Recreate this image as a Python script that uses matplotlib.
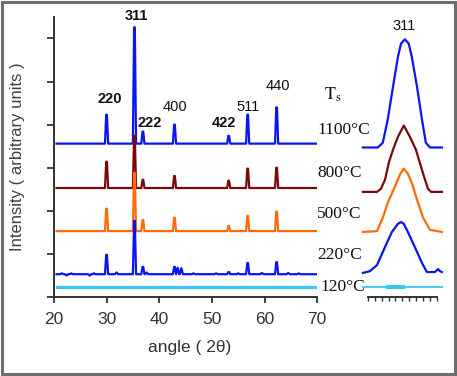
import matplotlib
matplotlib.use("Agg")
import matplotlib.pyplot as plt
from matplotlib.patches import Rectangle

plt.rcParams['font.family'] = ['Liberation Sans', 'DejaVu Sans']
plt.rcParams['mathtext.fontset'] = 'stix'

# peak positions (2 theta) and hkl labels
peak_pos = [30.0, 35.3, 36.9, 42.9, 53.2, 56.8, 62.3]
peak_hkl = ['220', '311', '222', '400', '422', '511', '440']
peak_bold = [True, True, True, False, True, False, False]

# baselines (offset of each trace) and peak heights above baseline
temps = ['1100°C', '800°C', '500°C', '220°C', '120°C']
base_1100 = 3.56
peaks_1100 = [0.67, 2.70, 0.28, 0.44, 0.18, 0.67, 0.84]
base_800 = 2.53
peaks_800 = [0.61, 1.21, 0.19, 0.28, 0.17, 0.45, 0.47]
base_500 = 1.53
peaks_500 = [0.52, 1.35, 0.26, 0.31, 0.12, 0.35, 0.45]
base_220 = 0.53
peaks_220 = [0.45, 1.24, 0.17, 0.17, 0.05, 0.26, 0.28]
base_120 = 0.23

# small baseline wiggles of the 220 C trace (2 theta, offset)
wiggle_220_x = [21.5, 22.4, 23.3, 26.8, 27.6, 31.9, 37.6, 43.5, 44.2, 46.5, 50.8, 55.0, 59.5, 64.5, 66.5]
wiggle_220_y = [0.02, -0.03, 0.02, -0.03, 0.02, 0.04, 0.04, 0.15, 0.14, 0.02, 0.02, 0.02, 0.03, 0.03, 0.02]

# inset: 311 peak profiles (2 theta, intensity)
ins_1100_x = [33.82, 34.36, 34.54, 34.72, 34.91, 35.09, 35.2, 35.34, 35.48, 35.59, 35.78, 35.96, 36.10, 36.25, 36.68]
ins_1100_y = [3.47, 3.47, 3.58, 4.12, 4.88, 5.58, 5.88, 5.98, 5.88, 5.58, 4.88, 4.12, 3.58, 3.47, 3.47]
ins_800_x = [33.82, 34.33, 34.47, 34.62, 34.76, 34.91, 35.09, 35.30, 35.52, 35.74, 35.88, 36.07, 36.18, 36.29, 36.68]
ins_800_y = [2.44, 2.44, 2.51, 2.72, 3.12, 3.42, 3.72, 3.98, 3.72, 3.42, 3.12, 2.72, 2.51, 2.44, 2.44]
ins_500_x = [33.82, 34.33, 34.54, 34.72, 34.98, 35.16, 35.30, 35.45, 35.59, 35.78, 36.00, 36.25, 36.68]
ins_500_y = [1.51, 1.53, 1.84, 2.19, 2.56, 2.84, 2.98, 2.86, 2.65, 2.26, 1.84, 1.56, 1.51]
ins_220_x = [33.82, 34.07, 34.33, 34.62, 34.87, 35.09, 35.20, 35.30, 35.45, 35.70, 35.96, 36.14, 36.43, 36.54, 36.61, 36.68]
ins_220_y = [0.56, 0.60, 0.74, 1.16, 1.51, 1.70, 1.74, 1.70, 1.51, 1.16, 0.79, 0.58, 0.58, 0.65, 0.60, 0.58]
ins_120_x = [33.82, 36.68]
ins_120_y = [0.23, 0.23]
ins_120_thick_x = [34.72, 35.27]

c_blue = '#0a14f5'
c_brown = '#7a0a0a'
c_orange = '#ff6a0a'
c_cyan = '#35c8f2'


def trace(base, heights, wx=None, wy=None, x0=20.5, x1=70.0):
    pts = [(x0, base), (x1, base)]
    for p, h in zip(peak_pos, heights):
        pts += [(p - 0.3, base), (p - 0.07, base + h), (p + 0.07, base + h), (p + 0.3, base)]
    if wx is not None:
        for x, d in zip(wx, wy):
            pts += [(x - 0.3, base), (x, base + d), (x + 0.3, base)]
    pts.sort()
    return [q[0] for q in pts], [q[1] for q in pts]


fig = plt.figure(figsize=(4.57, 3.76), dpi=100)
fig.patches.append(Rectangle((0.004, 0.005), 0.991, 0.99, transform=fig.transFigure,
                             fill=False, edgecolor='#6e6e6e', linewidth=2.2))

ax = fig.add_axes([0.118, 0.210, 0.576, 0.745])
lw = 1.6
x, y = trace(base_1100, peaks_1100)
ax.plot(x, y, color=c_blue, lw=lw, zorder=2)
x, y = trace(base_800, peaks_800)
ax.plot(x, y, color=c_brown, lw=lw, zorder=3)
x, y = trace(base_500, peaks_500)
ax.plot(x, y, color=c_orange, lw=lw, zorder=4)
x, y = trace(base_220, peaks_220, wiggle_220_x, wiggle_220_y)
ax.plot(x, y, color=c_blue, lw=lw, zorder=5)
ax.plot([20.6, 70.0], [base_120, base_120], color=c_cyan, lw=2.3, zorder=6)

ax.set_xlim(20, 70)
ax.set_ylim(0, 6.5)
ax.set_xticks([20, 30, 40, 50, 60, 70])
ax.set_yticks([0, 1, 2, 3, 4, 5, 6])
ax.set_yticklabels([])
ax.tick_params(axis='x', direction='out', length=4, width=1.3, colors='#333333',
               labelsize=12.5, pad=7)
ax.tick_params(axis='y', direction='out', length=5, width=1.3, colors='#333333')
for s in ['top', 'right']:
    ax.spines[s].set_visible(False)
for s in ['left', 'bottom']:
    ax.spines[s].set_color('#333333')
    ax.spines[s].set_linewidth(1.4)
ax.set_xlabel('angle ( 2θ)', fontsize=12.5, color='#333333')
ax.xaxis.set_label_coords(0.517, -0.155)
ax.set_ylabel('Intensity ( arbitrary units )', fontsize=12, color='#404040')
ax.yaxis.set_label_coords(-0.11, 0.5)

# hkl labels
lab_x = [30.65, 35.6, 38.25, 43.0, 52.3, 56.9, 62.6]
lab_y = [4.60, 6.51, 4.05, 4.42, 4.05, 4.42, 4.90]
for t, b, lx, ly in zip(peak_hkl, peak_bold, lab_x, lab_y):
    ax.text(lx, ly, t, ha='center', va='center', fontsize=10.5,
            fontweight='bold' if b else 'normal', color='#111111', clip_on=False)

# temperature labels
serif = ['Liberation Serif', 'DejaVu Serif']
ax.text(72.9, 4.70, r'$\mathrm{T_s}$', ha='center', va='center', fontsize=13, color='#111111')
t_y = [3.88, 2.88, 1.93, 0.98, 0.23]
t_x = [70.05, 70.05, 70.05, 70.05, 70.6]
for t, tx, ty in zip(temps, t_x, t_y):
    ax.text(tx, ty, t, ha='left', va='center', fontsize=12.5, family=serif,
            color='#111111', zorder=1)

# inset 311 profiles
ax2 = fig.add_axes([0.805, 0.210, 0.151, 0.745])
ax2.set_xlim(34.0, 36.5)
ax2.set_ylim(0, 6.5)
ax2.patch.set_alpha(0)
ax2.plot(ins_1100_x, ins_1100_y, color=c_blue, lw=lw, clip_on=False)
ax2.plot(ins_800_x, ins_800_y, color=c_brown, lw=lw, clip_on=False)
ax2.plot(ins_500_x, ins_500_y, color=c_orange, lw=lw, clip_on=False)
ax2.plot(ins_220_x, ins_220_y, color=c_blue, lw=lw, clip_on=False)
ax2.plot(ins_120_x, ins_120_y, color=c_cyan, lw=1.3, clip_on=False)
ax2.plot(ins_120_thick_x, [base_120, base_120], color=c_cyan, lw=3, clip_on=False)
ax2.text(35.3, 6.30, '311', ha='center', va='center', fontsize=10.5, color='#111111')
ax2.set_xticks([34 + 0.25 * i for i in range(11)])
ax2.set_xticklabels([])
ax2.set_yticks([])
ax2.tick_params(axis='x', direction='out', length=3, width=1, colors='#333333')
for s in ['top', 'right', 'left']:
    ax2.spines[s].set_visible(False)
ax2.spines['bottom'].set_color('#333333')
ax2.spines['bottom'].set_linewidth(1.4)

fig.savefig('out.png', dpi=100)
